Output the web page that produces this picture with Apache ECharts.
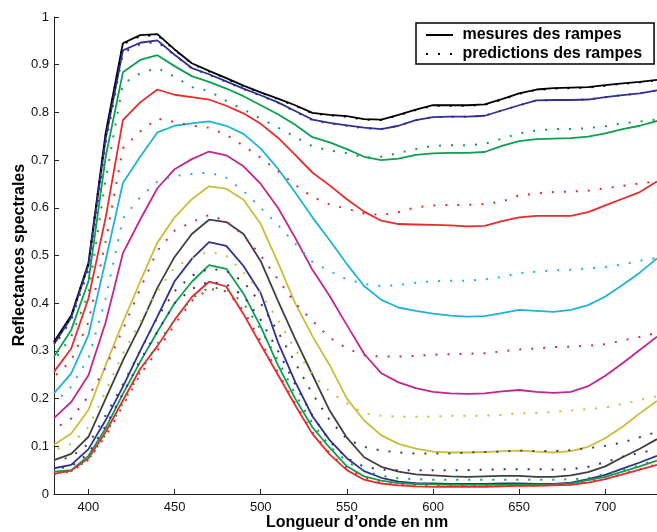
<!DOCTYPE html>
<html>
<head>
<meta charset="utf-8">
<script src="https://cdn.jsdelivr.net/npm/echarts@6/dist/echarts.min.js"></script>
<style>
html,body{margin:0;padding:0;background:#fff;}
#chart{width:657px;height:532px;}
</style>
</head>
<body>
<div id="chart"></div>
<script>
// ---- data ----
const wavelengths = [380,390,400,410,420,430,440,450,460,470,480,490,500,510,520,530,540,550,560,570,580,590,600,610,620,630,640,650,660,670,680,690,700,710,720,730];
const xTickValues = [400,450,500,550,600,650,700];
const yTickMin = 0, yTickMax = 1, yTickStep = 0.1;

// measured ramps (solid)
const measBlack   = [0.319,0.374,0.484,0.757,0.945,0.962,0.964,0.932,0.903,0.887,0.872,0.856,0.842,0.829,0.815,0.799,0.795,0.792,0.786,0.785,0.795,0.806,0.815,0.815,0.815,0.817,0.828,0.840,0.848,0.851,0.852,0.853,0.857,0.861,0.864,0.868];
const measBlue    = [0.314,0.370,0.480,0.745,0.930,0.946,0.951,0.921,0.893,0.880,0.865,0.850,0.836,0.821,0.803,0.785,0.778,0.773,0.768,0.765,0.772,0.784,0.790,0.791,0.791,0.793,0.804,0.815,0.825,0.826,0.826,0.827,0.832,0.836,0.840,0.846];
const measGreen   = [0.288,0.344,0.446,0.707,0.884,0.910,0.920,0.897,0.876,0.864,0.850,0.834,0.815,0.796,0.774,0.748,0.737,0.723,0.707,0.700,0.703,0.711,0.714,0.715,0.715,0.717,0.730,0.740,0.744,0.745,0.746,0.749,0.756,0.765,0.772,0.782];
const measRed     = [0.256,0.305,0.410,0.580,0.784,0.821,0.848,0.837,0.832,0.827,0.814,0.798,0.776,0.747,0.711,0.674,0.647,0.618,0.592,0.573,0.566,0.565,0.564,0.563,0.561,0.562,0.572,0.580,0.583,0.583,0.583,0.591,0.605,0.619,0.633,0.655];
const measCyan    = [0.211,0.253,0.333,0.490,0.652,0.707,0.758,0.772,0.777,0.781,0.772,0.755,0.724,0.682,0.632,0.580,0.532,0.482,0.436,0.407,0.391,0.384,0.378,0.374,0.372,0.373,0.379,0.386,0.384,0.382,0.386,0.396,0.414,0.438,0.464,0.494];
const measMagenta = [0.159,0.193,0.249,0.360,0.505,0.575,0.641,0.681,0.702,0.718,0.710,0.687,0.650,0.600,0.537,0.470,0.415,0.354,0.294,0.253,0.234,0.222,0.214,0.211,0.210,0.211,0.215,0.218,0.214,0.212,0.214,0.226,0.248,0.274,0.302,0.330];
const measYellow  = [0.103,0.127,0.176,0.270,0.360,0.445,0.527,0.580,0.618,0.645,0.640,0.617,0.566,0.485,0.400,0.331,0.270,0.200,0.154,0.123,0.105,0.095,0.089,0.087,0.087,0.088,0.090,0.091,0.089,0.087,0.090,0.099,0.117,0.141,0.169,0.195];
const measGray    = [0.071,0.084,0.120,0.200,0.280,0.352,0.432,0.497,0.545,0.575,0.570,0.545,0.488,0.405,0.325,0.250,0.175,0.118,0.077,0.057,0.047,0.041,0.039,0.037,0.036,0.037,0.038,0.038,0.036,0.036,0.039,0.046,0.058,0.077,0.095,0.115];
const measBlue2   = [0.054,0.061,0.094,0.155,0.225,0.300,0.372,0.446,0.493,0.528,0.520,0.478,0.421,0.318,0.235,0.163,0.113,0.075,0.048,0.034,0.026,0.023,0.022,0.021,0.021,0.021,0.022,0.022,0.021,0.021,0.024,0.031,0.040,0.053,0.066,0.080];
const measGreen2  = [0.047,0.050,0.080,0.138,0.210,0.277,0.340,0.400,0.445,0.480,0.472,0.420,0.351,0.270,0.200,0.140,0.097,0.058,0.037,0.028,0.023,0.021,0.020,0.019,0.019,0.019,0.019,0.019,0.019,0.020,0.022,0.029,0.036,0.047,0.058,0.070];
const measRed2    = [0.042,0.049,0.075,0.130,0.196,0.262,0.310,0.365,0.413,0.445,0.435,0.377,0.313,0.250,0.186,0.126,0.083,0.050,0.030,0.022,0.018,0.016,0.015,0.015,0.015,0.015,0.016,0.017,0.017,0.018,0.019,0.024,0.031,0.041,0.051,0.061];

// predicted ramps (dotted)
const predBlack   = [0.318,0.372,0.482,0.752,0.943,0.960,0.962,0.931,0.902,0.886,0.871,0.855,0.841,0.828,0.814,0.798,0.794,0.791,0.785,0.784,0.794,0.805,0.814,0.814,0.814,0.816,0.827,0.839,0.847,0.850,0.851,0.852,0.856,0.860,0.863,0.867];
const predBlue    = [0.310,0.365,0.470,0.735,0.925,0.943,0.948,0.920,0.892,0.879,0.864,0.849,0.835,0.820,0.802,0.784,0.777,0.772,0.767,0.765,0.772,0.784,0.790,0.791,0.791,0.793,0.804,0.815,0.825,0.826,0.826,0.827,0.832,0.836,0.840,0.846];
const predGreen   = [0.280,0.330,0.420,0.660,0.860,0.882,0.893,0.875,0.853,0.845,0.824,0.806,0.787,0.768,0.749,0.729,0.720,0.715,0.705,0.707,0.715,0.723,0.730,0.731,0.731,0.734,0.745,0.756,0.762,0.765,0.765,0.767,0.771,0.777,0.781,0.785];
const predRed     = [0.245,0.280,0.360,0.530,0.725,0.760,0.787,0.780,0.772,0.768,0.753,0.730,0.705,0.677,0.648,0.623,0.607,0.598,0.588,0.585,0.591,0.601,0.605,0.606,0.606,0.608,0.613,0.626,0.630,0.633,0.634,0.636,0.641,0.646,0.651,0.656];
const predCyan    = [0.190,0.225,0.285,0.410,0.578,0.622,0.655,0.667,0.671,0.674,0.663,0.635,0.600,0.564,0.525,0.487,0.467,0.450,0.440,0.436,0.438,0.443,0.446,0.447,0.447,0.450,0.455,0.463,0.466,0.469,0.470,0.473,0.476,0.481,0.489,0.495];
const predMagenta = [0.136,0.158,0.205,0.265,0.345,0.430,0.510,0.552,0.570,0.585,0.572,0.542,0.500,0.450,0.400,0.363,0.328,0.305,0.291,0.288,0.288,0.290,0.292,0.293,0.294,0.295,0.299,0.303,0.305,0.308,0.309,0.311,0.314,0.322,0.329,0.338];
const predYellow  = [0.092,0.105,0.140,0.215,0.295,0.360,0.425,0.475,0.495,0.508,0.500,0.465,0.420,0.365,0.303,0.250,0.215,0.190,0.169,0.164,0.162,0.162,0.162,0.164,0.164,0.164,0.166,0.169,0.170,0.172,0.175,0.178,0.181,0.189,0.197,0.205];
const predGray    = [0.068,0.078,0.105,0.165,0.230,0.300,0.370,0.425,0.458,0.472,0.468,0.445,0.400,0.340,0.275,0.210,0.155,0.115,0.099,0.091,0.087,0.085,0.085,0.085,0.087,0.088,0.089,0.091,0.090,0.090,0.092,0.096,0.101,0.108,0.119,0.130];
const predBlue2   = [0.052,0.058,0.085,0.143,0.210,0.280,0.340,0.400,0.430,0.445,0.440,0.415,0.365,0.300,0.230,0.165,0.110,0.075,0.057,0.051,0.050,0.050,0.050,0.050,0.050,0.051,0.052,0.052,0.052,0.051,0.052,0.057,0.067,0.078,0.086,0.094];
const predGreen2  = [0.045,0.048,0.072,0.125,0.190,0.255,0.315,0.365,0.410,0.433,0.430,0.400,0.345,0.280,0.210,0.148,0.100,0.068,0.048,0.038,0.033,0.031,0.030,0.030,0.030,0.030,0.030,0.030,0.030,0.030,0.031,0.033,0.042,0.051,0.060,0.072];
const predRed2    = [0.042,0.047,0.072,0.122,0.185,0.250,0.300,0.355,0.405,0.430,0.425,0.385,0.320,0.255,0.190,0.130,0.085,0.054,0.034,0.024,0.020,0.018,0.017,0.017,0.017,0.017,0.017,0.018,0.018,0.019,0.020,0.025,0.032,0.042,0.052,0.062];

const legendNames = ['mesures des rampes', 'predictions des rampes'];
const xTitle = 'Longueur d\u2019onde en nm';
const yTitle = 'Reflectances spectrales';

// ---- styling ----
const C = {black:'#000000', blue:'#2e3192', green:'#0d9f4f', red:'#e92a2c', cyan:'#1eb3d8', magenta:'#c1268f', yellow:'#c8be38', gray:'#404040'};
const measured = [measBlack, measBlue, measGreen, measRed, measCyan, measMagenta, measYellow, measGray, measBlue2, measGreen2, measRed2];
const predicted = [predBlack, predBlue, predGreen, predRed, predCyan, predMagenta, predYellow, predGray, predBlue2, predGreen2, predRed2];
const colors = [C.black, C.blue, C.green, C.red, C.cyan, C.magenta, C.yellow, C.gray, C.blue, C.green, C.red];
const FONT = '"Liberation Sans", Arial, Helvetica, sans-serif';

function pairs(vals){ return wavelengths.map((w,i)=>[w, vals[i]]); }

const series = [];
measured.forEach((vals, i) => {
  series.push({
    type:'line', name: i===0 ? legendNames[0] : 'mesure ' + i,
    data: pairs(vals), symbol:'none', smooth:false, z: 2,
    lineStyle:{color: colors[i], width: 1.8, type:'solid'},
    itemStyle:{color: colors[i]}
  });
});
predicted.forEach((vals, i) => {
  series.push({
    type:'line', name: i===0 ? legendNames[1] : 'prediction ' + i,
    data: pairs(vals), symbol:'none', smooth:false, z: 3,
    lineStyle:{color: colors[i], width: 2, type:[2,10], dashOffset: (i*3)%10},
    itemStyle:{color: colors[i]}
  });
});

const chart = echarts.init(document.getElementById('chart'), null, {renderer:'canvas'});
chart.setOption({
  animation:false,
  backgroundColor:'#ffffff',
  grid:{left:54, top:17, width:607, height:477, containLabel:false},
  xAxis:{
    type:'value', min:380, max:730,
    axisLine:{show:true, lineStyle:{color:'#222', width:1}},
    axisTick:{show:true, inside:true, length:5, customValues:xTickValues, lineStyle:{color:'#222'}},
    axisLabel:{show:true, customValues:xTickValues, margin:7, color:'#111', fontSize:13, fontFamily:FONT},
    splitLine:{show:false}
  },
  yAxis:{
    type:'value', min:yTickMin, max:yTickMax, interval:yTickStep,
    axisLine:{show:true, lineStyle:{color:'#222', width:1}},
    axisTick:{show:true, inside:true, length:5, lineStyle:{color:'#222'}},
    axisLabel:{show:true, margin:5, color:'#111', fontSize:13, fontFamily:FONT,
      formatter: v => String(Math.round(v*10)/10)},
    splitLine:{show:false}
  },
  legend:{
    data: legendNames, orient:'vertical', left:416, top:23,
    itemWidth:27, itemHeight:14, itemGap:3,
    padding:[4,12,2,9], borderColor:'#000', borderWidth:1.5, backgroundColor:'#fff',
    selectedMode:false, formatter:' {name}',
    itemStyle:{opacity:0, borderWidth:0},
    textStyle:{fontFamily:FONT, fontSize:16, fontWeight:'bold', color:'#000'}
  },
  graphic:[
    {type:'text', x:357, y:523, style:{text:xTitle, fontFamily:FONT, fontSize:16, fontWeight:'bold', fill:'#000', align:'center', verticalAlign:'middle'}},
    {type:'text', x:20, y:255, rotation:Math.PI/2, style:{text:yTitle, fontFamily:FONT, fontSize:16, fontWeight:'bold', fill:'#000', align:'center', verticalAlign:'middle'}}
  ],
  series: series
});
</script>
</body>
</html>
